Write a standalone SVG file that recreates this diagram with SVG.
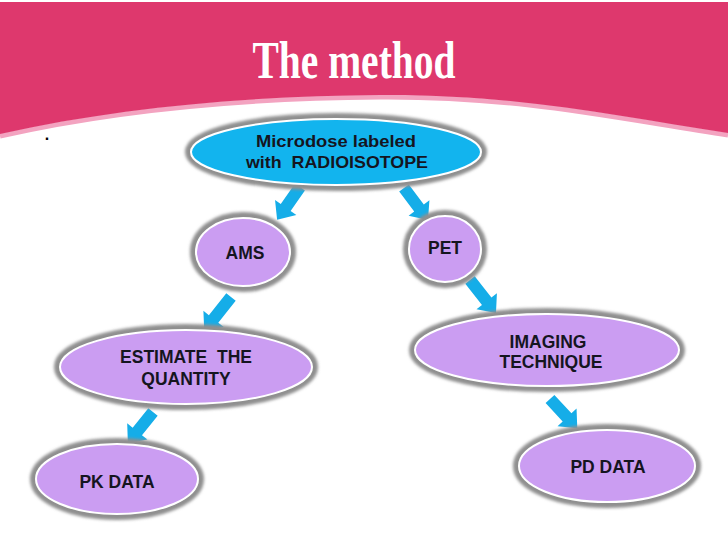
<svg xmlns="http://www.w3.org/2000/svg" width="728" height="546" viewBox="0 0 728 546">
<defs>
<filter id="blur" x="-20%" y="-20%" width="140%" height="140%"><feGaussianBlur stdDeviation="1.6"/></filter>
</defs>
<style>
.sh{fill:none;stroke:#8f8f8f;stroke-width:8;filter:url(#blur)}
.pur{fill:#CB9DF2;stroke:#ffffff;stroke-width:2}
.cy{fill:#12B4EE;stroke:#ffffff;stroke-width:2}
.t{font-family:"Liberation Sans",Arial,sans-serif;font-weight:bold;fill:#15151f;text-anchor:middle}
.arr{fill:#15ADE8}
</style>
<rect width="728" height="546" fill="#ffffff"/>
<g id="banner">
<path d="M728,135 C620,119 520,96 380,97 C250,98 120,109 0,136" fill="none" stroke="#F3A3C0" stroke-width="5"/>
<path d="M0,2 L728,2 L728,133 C620,117 520,94 380,95 C250,96 120,107 0,134 Z" fill="#DE386D"/>
<text x="354" y="78" font-family="'Liberation Serif','Times New Roman',serif" font-weight="bold" font-size="52" fill="#ffffff" text-anchor="middle" textLength="203" lengthAdjust="spacingAndGlyphs">The method</text>
</g>
<text x="47" y="140" font-family="'Liberation Sans',Arial,sans-serif" font-weight="bold" font-size="16" fill="#000" text-anchor="middle">.</text>
<g id="connectors">
<path class="arr" transform="translate(300,187) rotate(124.9)" d="M0,-6 L25,-6 L25,-13 L40,0 L25,13 L25,6 L0,6 Z"/>
<path class="arr" transform="translate(404,188) rotate(53.1)" d="M0,-6 L25,-6 L25,-13 L40,0 L25,13 L25,6 L0,6 Z"/>
<path class="arr" transform="translate(231,297) rotate(128.5)" d="M0,-6 L28,-6 L28,-13 L43,0 L28,13 L28,6 L0,6 Z"/>
<path class="arr" transform="translate(470,280) rotate(51.8)" d="M0,-6 L27,-6 L27,-13 L42,0 L27,13 L27,6 L0,6 Z"/>
<path class="arr" transform="translate(153,412) rotate(128.9)" d="M0,-6 L25,-6 L25,-13 L40,0 L25,13 L25,6 L0,6 Z"/>
<path class="arr" transform="translate(550,399) rotate(47)" d="M0,-6 L25,-6 L25,-13 L40,0 L25,13 L25,6 L0,6 Z"/>
</g>
<g id="microdose">
<ellipse class="sh" cx="336" cy="152" rx="147" ry="35"/>
<ellipse class="cy" cx="336" cy="152" rx="145" ry="33"/>
<text class="t" x="336" y="147" font-size="17" textLength="160" lengthAdjust="spacingAndGlyphs">Microdose labeled</text>
<text class="t" x="337" y="168" font-size="17" xml:space="preserve" textLength="182" lengthAdjust="spacingAndGlyphs">with  RADIOISOTOPE</text>
</g>
<g id="ams">
<ellipse class="sh" cx="243" cy="252" rx="49" ry="36"/>
<ellipse class="pur" cx="243" cy="252" rx="47" ry="34"/>
<text class="t" x="245" y="259" font-size="17.5">AMS</text>
</g>
<g id="pet">
<ellipse class="sh" cx="445" cy="249" rx="38" ry="35"/>
<ellipse class="pur" cx="445" cy="249" rx="36" ry="33"/>
<text class="t" x="445" y="254" font-size="17.5">PET</text>
</g>
<g id="estimate">
<ellipse class="sh" cx="186" cy="367" rx="128" ry="39"/>
<ellipse class="pur" cx="186" cy="367" rx="126" ry="37"/>
<text class="t" x="186" y="363" font-size="17.5" xml:space="preserve">ESTIMATE  THE</text>
<text class="t" x="186" y="385" font-size="17.5">QUANTITY</text>
</g>
<g id="imaging">
<ellipse class="sh" cx="547" cy="350" rx="134" ry="38"/>
<ellipse class="pur" cx="547" cy="350" rx="132" ry="36"/>
<text class="t" x="548" y="348" font-size="17.5">IMAGING</text>
<text class="t" x="551" y="368" font-size="17.5">TECHNIQUE</text>
</g>
<g id="pk">
<ellipse class="sh" cx="117" cy="479" rx="83" ry="37"/>
<ellipse class="pur" cx="117" cy="479" rx="81" ry="35"/>
<text class="t" x="117" y="488" font-size="17.5">PK DATA</text>
</g>
<g id="pd">
<ellipse class="sh" cx="607" cy="466" rx="90" ry="38"/>
<ellipse class="pur" cx="607" cy="466" rx="88" ry="36"/>
<text class="t" x="608" y="473" font-size="17.5">PD DATA</text>
</g>
</svg>
